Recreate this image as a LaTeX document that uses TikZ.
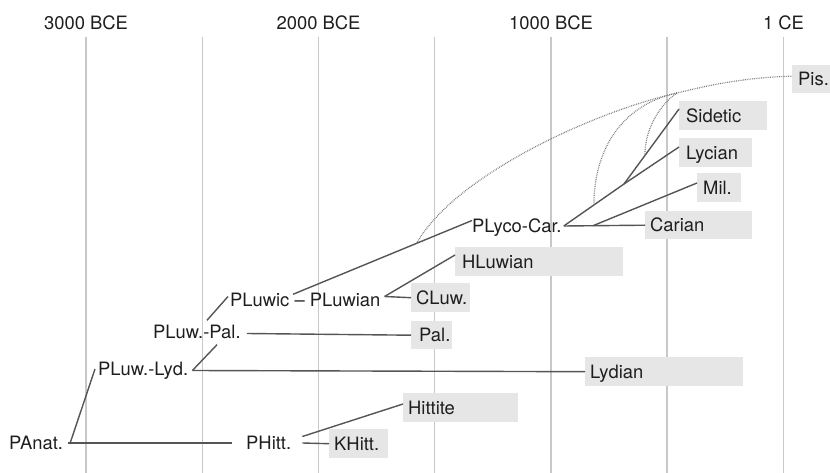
\documentclass[tikz,border=0pt]{standalone}
\usepackage{fontspec}
\setmainfont{TeX Gyre Heros}
\definecolor{gridc}{HTML}{C8C8C8}
\definecolor{linec}{HTML}{555555}
\definecolor{boxc}{HTML}{E6E6E6}
\definecolor{txtc}{HTML}{1E1E1E}
\definecolor{dotc}{HTML}{7A7A7A}
\begin{document}
\begin{tikzpicture}[x=1bp,y=-1bp,
  font=\fontsize{18.4bp}{20bp}\selectfont, text=txtc,
  gridline/.style={draw=gridc, line width=1.2bp},
  conn/.style={draw=linec, line width=1.4bp},
  dotconn/.style={draw=dotc, line width=1.2bp, dash pattern=on 0.8bp off 1.0bp},
  proto/.style={anchor=base west, inner sep=0pt, text height=13bp, text depth=0pt},
  leaf/.style={fill=boxc, anchor=north west, inner sep=0pt, text height=13bp, text depth=0pt, align=left},
  yearlabel/.style={anchor=base, inner sep=0pt}]
\useasboundingbox (0,0) rectangle (830,473);
% time grid
\foreach \gx in {86,202.5,318.5,434.5,551,667,783.5}
  \draw[gridline] (\gx,37) -- (\gx,473);
\node[yearlabel] (y3000) at (86,30) {3000 BCE};
\node[yearlabel] (y2000) at (318.5,30) {2000 BCE};
\node[yearlabel] (y1000) at (551,30) {1000 BCE};
\node[yearlabel] (y1) at (783.5,30) {1 CE};
% proto-languages
\node[proto] (pan) at (9,449.5) {PAnat.};
\node[proto] (phitt) at (246,449.5) {PHitt.};
\node[proto] (plyd) at (98,375.5) {PLuw.-Lyd.};
\node[proto] (ppal) at (153,338.5) {PLuw.-Pal.};
\node[proto] (pluw) at (230,306.5) {PLuwic -- PLuwian};
\node[proto] (plyco) at (472,232.5) {PLyco-Car.};
% attested languages
\node[leaf, text width=38bp, minimum height=28bp] (pis) at (792,65) {\hspace*{6bp}Pis.};
\node[leaf, text width=88bp, minimum height=29bp] (sidetic) at (679,101) {\hspace*{7bp}Sidetic};
\node[leaf, text width=73bp, minimum height=29bp] (lycian) at (679,138) {\hspace*{7bp}Lycian};
\node[leaf, text width=44bp, minimum height=29bp] (mil) at (697,173) {\hspace*{6bp}Mil.};
\node[leaf, text width=107bp, minimum height=28bp] (carian) at (645,211) {\hspace*{5bp}Carian};
\node[leaf, text width=168bp, minimum height=29bp] (hluwian) at (455,247) {\hspace*{7bp}HLuwian};
\node[leaf, text width=59bp, minimum height=29bp] (cluw) at (411,283) {\hspace*{5bp}CLuw.};
\node[leaf, text width=41bp, minimum height=28bp] (pal) at (411,321) {\hspace*{8bp}Pal.};
\node[leaf, text width=158bp, minimum height=29bp] (lydian) at (585,357) {\hspace*{5bp}Lydian};
\node[leaf, text width=115bp, minimum height=29bp] (hittite) at (403,393) {\hspace*{5bp}Hittite};
\node[leaf, text width=59bp, minimum height=29bp] (khitt) at (329,429) {\hspace*{5bp}KHitt.};
% tree connectors
\draw[conn] ([xshift=5bp]pan.east) -- ([xshift=-14bp]phitt.west);
\draw[conn] ([xshift=7bp]pan.east) -- ([xshift=-3bp]plyd.west);
\draw[conn] ([xshift=4bp,yshift=-1.5bp]plyd.east) -- (lydian.west);
\draw[conn] ([xshift=4bp,yshift=-1.5bp]plyd.east) -- ([xshift=64bp,yshift=-6bp]ppal.south west);
\draw[conn] ([xshift=6bp,yshift=-1.5bp]ppal.east) -- (pal.west);
\draw[conn] ([xshift=54bp,yshift=5bp]ppal.north west) -- ([xshift=-2bp,yshift=3.5bp]pluw.west);
\draw[conn] ([xshift=63bp,yshift=-1bp]pluw.north west) -- coordinate[pos=0.69] (d0) ([yshift=5.5bp]plyco.west);
\draw[conn] ([xshift=4bp,yshift=3.5bp]pluw.east) -- (cluw.west);
\draw[conn] ([xshift=4bp,yshift=3.5bp]pluw.east) -- ([yshift=-8bp]hluwian.north west);
\draw[conn] ([xshift=11bp,yshift=6.5bp]phitt.east) -- ([yshift=-11bp]hittite.north west);
\draw[conn] ([xshift=11bp]phitt.east) -- (khitt.west);
\coordinate (b1) at (624,184);
\draw[conn] ([xshift=2bp]plyco.east) -- coordinate[pos=0.36] (m0) (carian.west);
\draw[conn] ([xshift=2bp]plyco.east) -- coordinate[pos=0.5] (d1) (b1);
\draw[conn] (b1) -- coordinate[pos=0.38] (d2) ([yshift=-8bp]sidetic.north west);
\draw[conn] (b1) -- ([yshift=-9bp]lycian.north west);
\draw[conn] (m0) -- ([yshift=-10bp]mil.north west);
% dotted contact lines
\coordinate (j) at (677,93);
\draw[dotconn] (d0) .. controls +(40,-70) and +(-80,18) .. (j)
  .. controls +(40,-10) and +(-40,1) .. ([yshift=3bp]pis.west);
\draw[dotconn] (j) .. controls +(-57,12) and +(0,-53) .. (d1);
\draw[dotconn] (j) .. controls +(-15,10) and +(0,-29) .. (d2);
\end{tikzpicture}
\end{document}
